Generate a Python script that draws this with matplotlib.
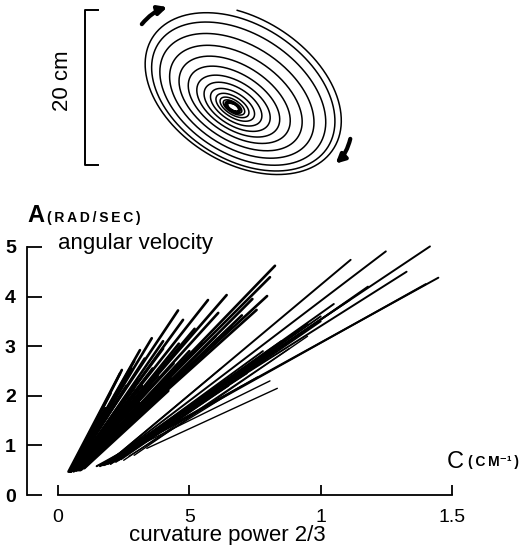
import numpy as np
import matplotlib.pyplot as plt

plt.rcParams['font.family'] = ['Liberation Sans', 'DejaVu Sans']

# spiral drawing (cm): one entry per loop, outer -> inner
loop_a = [14.2, 13.4, 12.4, 11.0, 9.5, 8.0, 6.6, 5.3, 4.2, 3.2, 2.4, 1.8, 1.35, 1.1, 0.95, 0.85, 0.75]
loop_ratio = [0.66, 0.66, 0.64, 0.62, 0.60, 0.58, 0.56, 0.55, 0.54, 0.52, 0.50, 0.48, 0.46, 0.45, 0.45, 0.45, 0.45]
loop_cx = [31.2, 31.2, 31.1, 30.9, 30.8, 30.6, 30.5, 30.4, 30.3, 30.2, 30.15, 30.1, 30.08, 30.06, 30.06, 30.06, 30.06]
loop_cy = [12.8, 12.5, 12.2, 11.9, 11.6, 11.4, 11.2, 11.0, 10.9, 10.85, 10.8, 10.75, 10.72, 10.7, 10.7, 10.7, 10.7]
scale_bar_cm = 20

# angular velocity A vs curvature power 2/3 C, one segment per movement
# steep fan (small ellipses)
steep_c0 = [0.040, 0.045, 0.050, 0.050, 0.050, 0.055, 0.055, 0.050, 0.060, 0.060,
            0.060, 0.065, 0.070, 0.070, 0.075, 0.075, 0.080, 0.080, 0.085, 0.060,
            0.070, 0.080, 0.090, 0.050, 0.060, 0.060, 0.070, 0.065, 0.045, 0.050,
            0.055, 0.060, 0.065, 0.070, 0.075, 0.080, 0.085, 0.090, 0.095, 0.100,
            0.070, 0.060, 0.055, 0.045, 0.050, 0.060, 0.070, 0.080, 0.090, 0.100]
steep_a0 = [0.47, 0.48, 0.50, 0.48, 0.50, 0.50, 0.50, 0.49, 0.50, 0.52,
            0.50, 0.50, 0.52, 0.52, 0.50, 0.52, 0.52, 0.52, 0.50, 0.48,
            0.50, 0.50, 0.52, 0.47, 0.50, 0.48, 0.50, 0.50, 0.47, 0.48,
            0.49, 0.50, 0.50, 0.51, 0.52, 0.52, 0.53, 0.53, 0.55, 0.55,
            0.50, 0.49, 0.49, 0.47, 0.48, 0.49, 0.50, 0.51, 0.52, 0.54]
steep_c1 = [0.236, 0.200, 0.243, 0.312, 0.280, 0.357, 0.330, 0.457, 0.476, 0.400,
            0.571, 0.642, 0.610, 0.520, 0.826, 0.807, 0.796, 0.756, 0.700, 0.360,
            0.420, 0.500, 0.550, 0.260, 0.300, 0.340, 0.380, 0.440, 0.180, 0.220,
            0.250, 0.290, 0.320, 0.350, 0.390, 0.430, 0.470, 0.600, 0.660, 0.740,
            0.460, 0.400, 0.290, 0.150, 0.190, 0.230, 0.270, 0.310, 0.360, 0.420]
steep_a1 = [2.45, 2.05, 2.52, 2.92, 2.55, 3.16, 2.75, 3.72, 3.53, 2.95,
            3.93, 4.03, 3.67, 3.35, 4.62, 4.39, 4.01, 3.73, 3.62, 2.55,
            2.70, 2.90, 3.05, 2.20, 2.30, 2.40, 2.40, 2.65, 1.75, 2.00,
            2.10, 2.15, 2.20, 2.20, 2.25, 2.35, 2.45, 3.20, 3.40, 3.95,
            3.05, 3.10, 2.70, 1.45, 1.60, 1.70, 1.80, 1.85, 1.95, 2.10]
# middle fan
mid_c0 = [0.185, 0.180, 0.170, 0.160, 0.190, 0.200, 0.147, 0.160,
          0.200, 0.220, 0.210, 0.230, 0.175, 0.240, 0.195]
mid_a0 = [0.62, 0.61, 0.60, 0.59, 0.63, 0.63, 0.58, 0.58,
          0.65, 0.68, 0.66, 0.70, 0.60, 0.72, 0.64]
mid_c1 = [1.114, 1.248, 1.416, 1.327, 1.110, 1.000, 1.448, 1.400,
          1.050, 0.950, 0.900, 1.180, 0.850, 1.000, 0.780]
mid_a1 = [4.74, 4.91, 5.01, 4.50, 3.93, 3.60, 4.38, 4.25,
          3.85, 3.45, 3.25, 4.20, 3.10, 3.50, 2.90]
# shallow fan (large ellipses)
low_c0 = [0.338, 0.147, 0.170, 0.190, 0.200, 0.185, 0.290, 0.250, 0.270, 0.220]
low_a0 = [0.94, 0.58, 0.60, 0.62, 0.62, 0.63, 0.80, 0.70, 0.78, 0.66]
low_c1 = [0.835, 0.807, 0.760, 0.720, 0.680, 0.620, 0.950, 0.880, 0.700, 0.650]
low_a1 = [2.15, 2.30, 2.38, 2.45, 2.42, 2.55, 3.20, 2.95, 2.20, 2.20]

x_ticks = [0, 0.5, 1.0, 1.5]
x_labels = ['0', '5', '1', '1.5']
y_ticks = [0, 1, 2, 3, 4, 5]

fig = plt.figure(figsize=(5.22, 5.45), dpi=100)

# ---------------- top: hand trajectory ----------------
ax_top = fig.add_axes([0, 355 / 545, 360 / 522, 190 / 545])
ax_top.set_xlim(0, 360 / 7.75)
ax_top.set_ylim(0, 190 / 7.75)
ax_top.axis('off')

th = np.deg2rad(-32)
start = np.deg2rad(115)
xs, ys = [], []
for i in range(len(loop_a) - 1):
    t = np.linspace(0, 1, 240, endpoint=False)
    a = loop_a[i] + (loop_a[i + 1] - loop_a[i]) * t
    b = a * (loop_ratio[i] + (loop_ratio[i + 1] - loop_ratio[i]) * t)
    cx = loop_cx[i] + (loop_cx[i + 1] - loop_cx[i]) * t
    cy = loop_cy[i] + (loop_cy[i + 1] - loop_cy[i]) * t
    ang = start - 2 * np.pi * t  # clockwise
    ex, ey = a * np.cos(ang), b * np.sin(ang)
    xs.append(cx + ex * np.cos(th) - ey * np.sin(th))
    ys.append(cy + ex * np.sin(th) + ey * np.cos(th))
ax_top.plot(np.concatenate(xs), np.concatenate(ys), color='black', lw=1.1)

# direction arrows
arrow = dict(arrowstyle='-|>', lw=3.0, color='black', mutation_scale=13,
             shrinkA=0, shrinkB=0)
ax_top.annotate('', xy=(21.6, 23.6), xytext=(18.3, 21.4),
                arrowprops=dict(arrow, connectionstyle='arc3,rad=-0.15'))
ax_top.annotate('', xy=(43.3, 3.4), xytext=(45.2, 6.6),
                arrowprops=dict(arrow, connectionstyle='arc3,rad=-0.15'))

# scale bar
bar_x, bar_y0 = 10.97, 3.2
ax_top.plot([bar_x + 1.7, bar_x, bar_x, bar_x + 1.7],
            [bar_y0 + scale_bar_cm, bar_y0 + scale_bar_cm, bar_y0, bar_y0],
            color='black', lw=1.4)
ax_top.text(8.1, bar_y0 + scale_bar_cm / 2 + 0.9, '20 cm', rotation=90,
            ha='center', va='center', fontsize=16)

# ---------------- bottom: A vs C ----------------
ax = fig.add_axes([27 / 522, 50 / 545, 490.7 / 522, 258 / 545])
ax.set_xlim(-0.118, 1.75)
ax.set_ylim(0, 5.2)

groups = [(steep_c0, steep_a0, steep_c1, steep_a1, 1.9),
          (mid_c0, mid_a0, mid_c1, mid_a1, 1.4),
          (low_c0, low_a0, low_c1, low_a1, 1.0)]
for c0s, a0s, c1s, a1s, lw in groups:
    for c0, a0, c1, a1 in zip(c0s, a0s, c1s, a1s):
        ax.plot([c0, c1], [a0, a1], color='black', lw=lw, solid_capstyle='round')

for s in ['top', 'right']:
    ax.spines[s].set_visible(False)
ax.spines['left'].set_bounds(0, 5)
ax.spines['bottom'].set_bounds(0, 1.5)
ax.spines['left'].set_linewidth(1.3)
ax.spines['bottom'].set_linewidth(1.3)

ax.set_yticks(y_ticks)
ax.set_xticks(x_ticks)
ax.set_xticklabels(x_labels)
ax.tick_params(axis='y', direction='in', length=11, width=1.3, pad=8,
               labelsize=14)
ax.tick_params(axis='x', direction='in', length=7, width=1.3, pad=10,
               labelsize=14)
for lab in ax.get_yticklabels():
    lab.set_fontweight('bold')

ax.text(-0.116, 5.5, 'A', fontsize=17, fontweight='bold', va='baseline', clip_on=False)
ax.text(-0.042, 5.5, '(\u2009R\u2009A\u2009D\u2009/\u2009S\u2009E\u2009C\u2009)', fontsize=10,
        fontweight='bold', va='baseline', clip_on=False)
ax.text(0.0, 4.96, 'angular velocity', fontsize=16, va='baseline')
ax.text(1.48, 0.54, 'C', fontsize=17, va='baseline')
ax.text(1.56, 0.58, '(\u2009C\u2009M\u207b\u00b9\u2009)', fontsize=10, fontweight='bold',
        va='baseline', clip_on=False)
ax.text(0.643, -0.93, 'curvature power 2/3', fontsize=16, ha='center', va='baseline',
        clip_on=False)

fig.savefig('out.png', dpi=100)
